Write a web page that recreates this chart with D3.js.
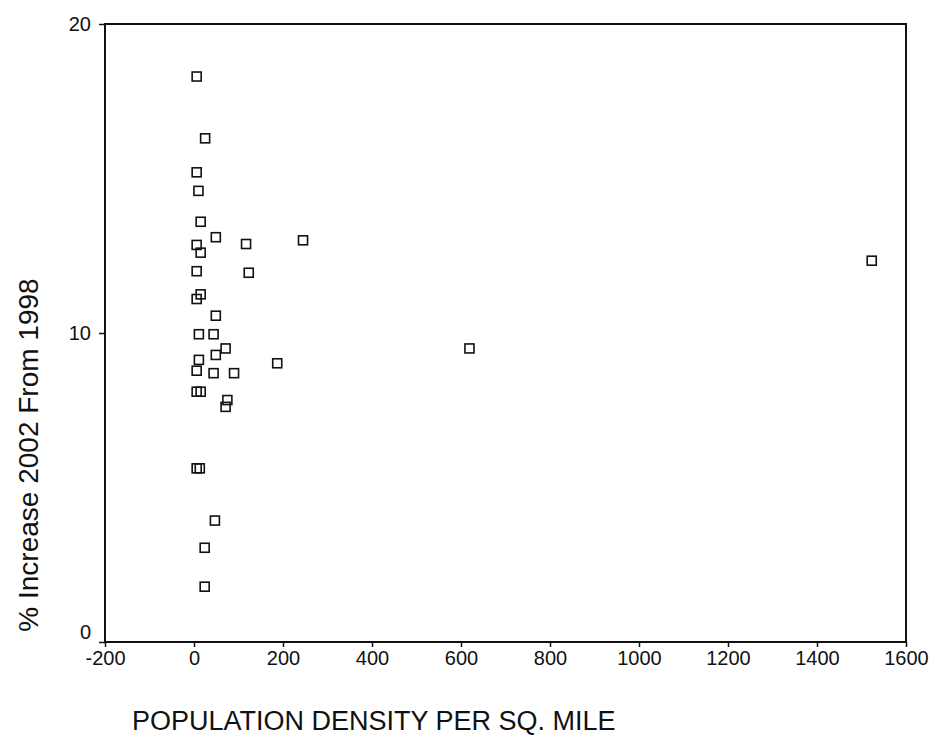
<!DOCTYPE html>
<html>
<meta charset="utf-8">
<head>
<style>
body { margin: 0; background: #fff; }
svg { font-family: "Liberation Sans", Arial, sans-serif; }
.axis text { font-size: 20px; fill: #111; }
.axis line { stroke: #111; stroke-width: 1.5; }
path.domain { opacity: 0; }
.frame { fill: none; stroke: #111; stroke-width: 2; }
.pt { fill: none; stroke: #111; stroke-width: 1.6; }
.title { font-size: 27px; fill: #111; }
</style>
</head>
<body>
<svg width="935" height="751"></svg>
<script src="https://d3js.org/d3.v7.min.js"></script>
<script>

// density per sq. mile vs % increase 2002 from 1998
var density = [6, 25, 6, 10, 15, 49, 6, 15, 117, 245,
               6, 123, 15, 6, 49, 11, 44, 71, 49, 11,
               187, 6, 44, 90, 6, 15, 75, 71, 6, 13,
               47, 24, 24, 619, 1523];
var increase = [18.3, 16.3, 15.2, 14.6, 13.6, 13.1, 12.85, 12.6, 12.88, 13.0,
                12.0, 11.95, 11.25, 11.1, 10.56, 9.96, 9.96, 9.5, 9.29, 9.13,
                9.02, 8.78, 8.7, 8.7, 8.1, 8.1, 7.83, 7.61, 5.62, 5.62,
                3.93, 3.05, 1.79, 9.5, 12.34];

var xTicks = [-200, 0, 200, 400, 600, 800, 1000, 1200, 1400, 1600];
var yTicks = [0, 10, 20];

var svg = d3.select("svg"),
  margin = {top: 24, right: 29, bottom: 109, left: 105},
  width = +svg.attr("width") - margin.left - margin.right,
  height = +svg.attr("height") - margin.top - margin.bottom,
  box = 9;

var x = d3.scaleLinear().domain([-200, 1600]).range([margin.left, margin.left + width]),
  y = d3.scaleLinear().domain([0, 20]).range([margin.top + height, margin.top]);

// plain labels: no thousands comma, ascii hyphen for the minus
var plain = function(d) { return String(d); };

var xAxis = d3.axisBottom(x).tickValues(xTicks).tickFormat(plain)
    .tickSize(5).tickSizeOuter(0).tickPadding(4),
  yAxis = d3.axisLeft(y).tickValues(yTicks).tickFormat(plain)
    .tickSize(6).tickSizeOuter(0).tickPadding(8);

svg.append("g")
  .attr("class", "axis")
  .attr("transform", "translate(0," + (margin.top + height) + ")")
  .call(xAxis);

var gy = svg.append("g")
  .attr("class", "axis")
  .attr("transform", "translate(" + margin.left + ",0)")
  .call(yAxis);

// the zero label sits a bit above its tick in the original
gy.selectAll(".tick text")
  .filter(function(d) { return d === 0; })
  .attr("dy", "-0.2em");

svg.append("rect")
  .attr("class", "frame")
  .attr("x", margin.left)
  .attr("y", margin.top)
  .attr("width", width)
  .attr("height", height);

svg.append("g")
  .selectAll("rect")
  .data(density)
  .enter().append("rect")
  .attr("class", "pt")
  .attr("x", function(d) { return x(d) - box / 2; })
  .attr("y", function(d, i) { return y(increase[i]) - box / 2; })
  .attr("width", box)
  .attr("height", box);

svg.append("text")
  .attr("class", "title")
  .attr("x", 132)
  .attr("y", 730)
  .text("POPULATION DENSITY PER SQ. MILE");

svg.append("text")
  .attr("class", "title")
  .attr("transform", "translate(38,455) rotate(-90)")
  .attr("text-anchor", "middle")
  .style("font-size", "28px")
  .text("% Increase 2002 From 1998");

</script>
</body>
</html>
